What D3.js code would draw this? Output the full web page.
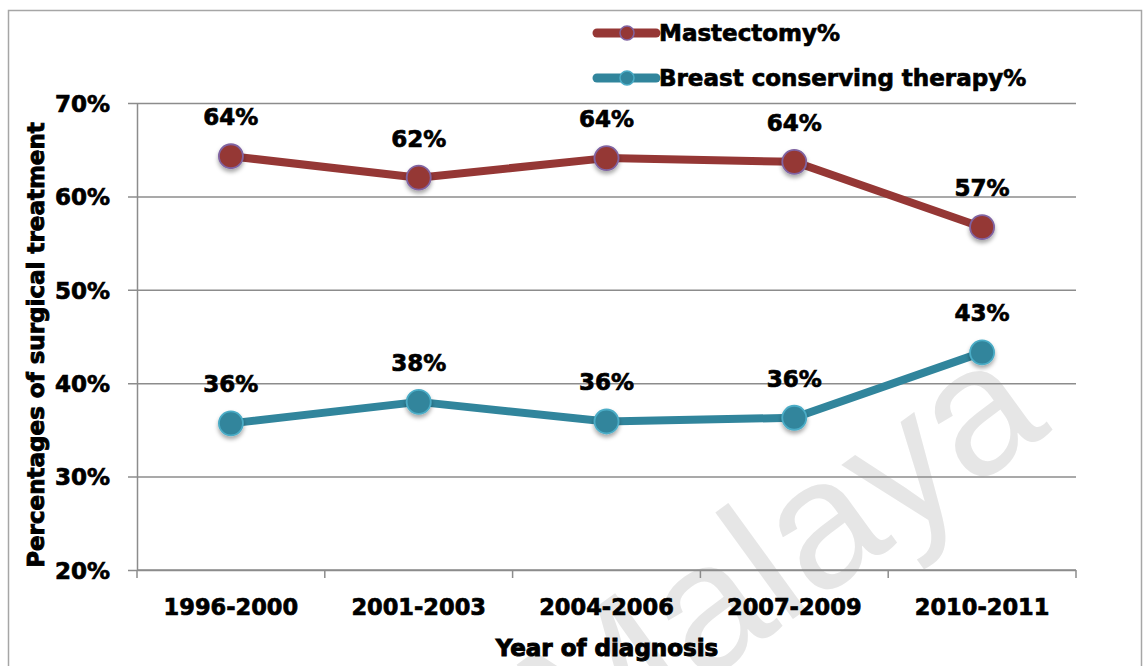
<!DOCTYPE html>
<html>
<head>
<meta charset="utf-8">
<script src="https://cdn.jsdelivr.net/npm/d3@7"></script>
<style>
  html, body { margin: 0; padding: 0; background: #fff; }
  svg { display: block; }
  text.lbl { font-family: "DejaVu Sans", sans-serif; font-weight: bold; fill: #000; stroke: #000; stroke-width: 0.7px; }
</style>
</head>
<body>
<svg id="chart" width="1143" height="666"></svg>
<script>
// Surgical treatment share by period of diagnosis
const periods = ["1996-2000", "2001-2003", "2004-2006", "2007-2009", "2010-2011"];
const mastectomy = [64.3, 62.0, 64.1, 63.7, 56.7];
const breastConserving = [35.7, 38.0, 35.9, 36.3, 43.3];
const seriesNames = ["Mastectomy%", "Breast conserving therapy%"];
const yTicks = [20, 30, 40, 50, 60, 70];

const svg = d3.select("#chart");
const plot = { left: 137, right: 1076, top: 103, bottom: 570 };

const styles = [
  { line: "#953735", fill: "#953735", ring: "#8064a2" },
  { line: "#31859c", fill: "#31859c", ring: "#4bacc6" }
];
const series = [mastectomy, breastConserving];

// Marker shadow
const defs = svg.append("defs");
const f = defs.append("filter").attr("id", "shadow")
  .attr("x", "-50%").attr("y", "-50%").attr("width", "200%").attr("height", "200%");
f.append("feDropShadow").attr("dx", 0).attr("dy", 3).attr("stdDeviation", 2)
  .attr("flood-color", "#000").attr("flood-opacity", 0.35);

// Outer frame
svg.append("rect")
  .attr("x", 8.5).attr("y", 10.5).attr("width", 1133).attr("height", 700)
  .attr("fill", "#fff").attr("stroke", "#a6a6a6").attr("stroke-width", 1.5);

// Watermark
svg.append("text")
  .attr("transform", "translate(1053,430) rotate(-36)")
  .attr("text-anchor", "end")
  .style("font-family", "'Liberation Sans', sans-serif")
  .style("font-size", "182px")
  .style("fill", "#e6e6e6")
  .text("Malaya");

const x = d3.scaleBand().domain(periods).range([plot.left, plot.right]).padding(0);
const y = d3.scaleLinear().domain([20, 70]).range([plot.bottom, plot.top]);
const cx = p => x(p) + x.bandwidth() / 2;

// Horizontal gridlines with outward ticks and labels
const yAxis = d3.axisLeft(y).tickValues(yTicks)
  .tickSize(-(plot.right - plot.left)).tickSizeOuter(0)
  .tickFormat(d => d + "%");
const gy = svg.append("g").attr("transform", `translate(${plot.left},0)`).call(yAxis);
gy.select(".domain").attr("stroke", "#8c8c8c").attr("stroke-width", 1.5);
gy.selectAll(".tick line").attr("x1", -9).attr("stroke", "#8c8c8c").attr("stroke-width", 1.5);
gy.selectAll(".tick text")
  .attr("class", "lbl")
  .attr("x", -27).attr("dy", "0.36em")
  .style("font-size", "23px");

// Category axis with boundary ticks
const gx = svg.append("g").attr("transform", `translate(0,${plot.bottom})`);
gx.append("line").attr("x1", plot.left).attr("x2", plot.right)
  .attr("stroke", "#8c8c8c").attr("stroke-width", 1.5);
const bounds = periods.map(p => x(p)).concat([x(periods[periods.length - 1]) + x.bandwidth()]);
gx.selectAll("line.b").data(bounds).enter().append("line").attr("class", "b")
  .attr("x1", d => d).attr("x2", d => d).attr("y1", 0).attr("y2", 8)
  .attr("stroke", "#8c8c8c").attr("stroke-width", 1.5);
gx.selectAll("text").data(periods).enter().append("text")
  .attr("class", "lbl")
  .attr("x", d => cx(d)).attr("y", 45)
  .attr("text-anchor", "middle").style("font-size", "22.5px")
  .text(d => d);

// Axis titles
svg.append("text").attr("class", "lbl")
  .attr("transform", "translate(44,345) rotate(-90)")
  .attr("text-anchor", "middle").style("font-size", "23px").style("stroke-width", "0.9px")
  .text("Percentages of surgical treatment");
svg.append("text").attr("class", "lbl")
  .attr("x", 607).attr("y", 656)
  .attr("text-anchor", "middle").style("font-size", "23px").style("stroke-width", "1px")
  .text("Year of diagnosis");

// Lines, markers and value labels
const line = d3.line().x((d, i) => cx(periods[i])).y(d => y(d));
series.forEach((vals, s) => {
  const st = styles[s];
  const g = svg.append("g");
  g.append("path").datum(vals).attr("d", line)
    .attr("fill", "none").attr("stroke", st.line).attr("stroke-width", 8)
    .attr("stroke-linejoin", "round");
  g.selectAll("circle").data(vals).enter().append("circle")
    .attr("cx", (d, i) => cx(periods[i]))
    .attr("cy", d => y(d)).attr("r", 12)
    .attr("fill", st.fill).attr("stroke", st.ring).attr("stroke-width", 1.8)
    .attr("filter", "url(#shadow)");
  g.selectAll("text").data(vals).enter().append("text")
    .attr("class", "lbl")
    .attr("x", (d, i) => cx(periods[i]))
    .attr("y", d => y(d) - 31)
    .attr("text-anchor", "middle").style("font-size", "23px")
    .text(d => Math.round(d) + "%");
});

// Legend
const legend = svg.append("g");
[33, 78].forEach((ly, s) => {
  const st = styles[s];
  legend.append("line").attr("x1", 597).attr("x2", 656).attr("y1", ly).attr("y2", ly)
    .attr("stroke", st.line).attr("stroke-width", 9).attr("stroke-linecap", "round");
  legend.append("circle").attr("cx", 627).attr("cy", ly).attr("r", 7)
    .attr("fill", st.fill).attr("stroke", st.ring).attr("stroke-width", 1.5);
  legend.append("text").attr("class", "lbl").attr("x", 659).attr("y", ly + 8.4)
    .style("font-size", "23px").text(seriesNames[s]);
});
</script>
</body>
</html>
